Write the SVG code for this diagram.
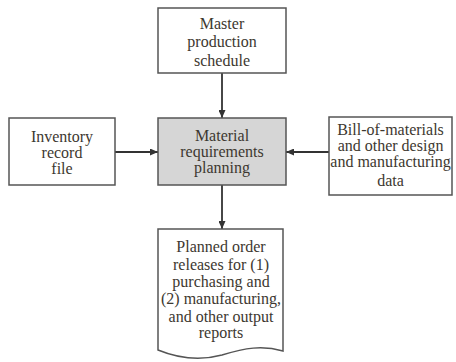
<svg xmlns="http://www.w3.org/2000/svg" width="456" height="362" viewBox="0 0 456 362">
<defs>
<marker id="ah" markerWidth="8" markerHeight="7" refX="8" refY="3.5" orient="auto" markerUnits="userSpaceOnUse">
<path d="M0,0 L8,3.5 L0,7 Z" fill="#333"/>
</marker>
<style>
.box{fill:#fff;stroke:#555;stroke-width:1.5}
.mid{fill:#d6d6d6;stroke:#555;stroke-width:1.5}
text{font-family:"Liberation Serif","Times New Roman",serif;font-size:16px;fill:#3d3830;text-anchor:middle}
.conn{stroke:#333;stroke-width:1.8;fill:none;marker-end:url(#ah)}
</style>
</defs>
<rect width="456" height="362" fill="#fff"/>
<g id="connectors">
<line class="conn" x1="222" y1="73" x2="222" y2="118"/>
<line class="conn" x1="115" y1="152" x2="158" y2="152"/>
<line class="conn" x1="329" y1="152" x2="286" y2="152"/>
<line class="conn" x1="222" y1="185" x2="222" y2="229"/>
</g>
<g id="master">
<rect class="box" x="158" y="8" width="128" height="65"/>
<text x="222" y="29">Master</text>
<text x="222" y="47">production</text>
<text x="222" y="66">schedule</text>
</g>
<g id="inventory">
<rect class="box" x="9" y="118" width="106" height="67"/>
<text x="62" y="142">Inventory</text>
<text x="62" y="158">record</text>
<text x="62" y="174">file</text>
</g>
<g id="mrp">
<rect class="mid" x="158" y="118" width="128" height="67"/>
<text x="222" y="141">Material</text>
<text x="222" y="157">requirements</text>
<text x="222" y="173">planning</text>
</g>
<g id="bom">
<rect class="box" x="329" y="117" width="123" height="78"/>
<text x="390.5" y="135">Bill-of-materials</text>
<text x="390.5" y="151">and other design</text>
<text x="390.5" y="167">and manufacturing</text>
<text x="390.5" y="186">data</text>
</g>
<g id="reports">
<path class="box" d="M158,229 L283,229 L283,351 C262,345 245,348 222,355 C200,361 180,359 158,350 Z"/>
<text x="221" y="252">Planned order</text>
<text x="221" y="270">releases for (1)</text>
<text x="221" y="287">purchasing and</text>
<text x="221" y="304">(2) manufacturing,</text>
<text x="221" y="322">and other output</text>
<text x="221" y="338">reports</text>
</g>
</svg>
